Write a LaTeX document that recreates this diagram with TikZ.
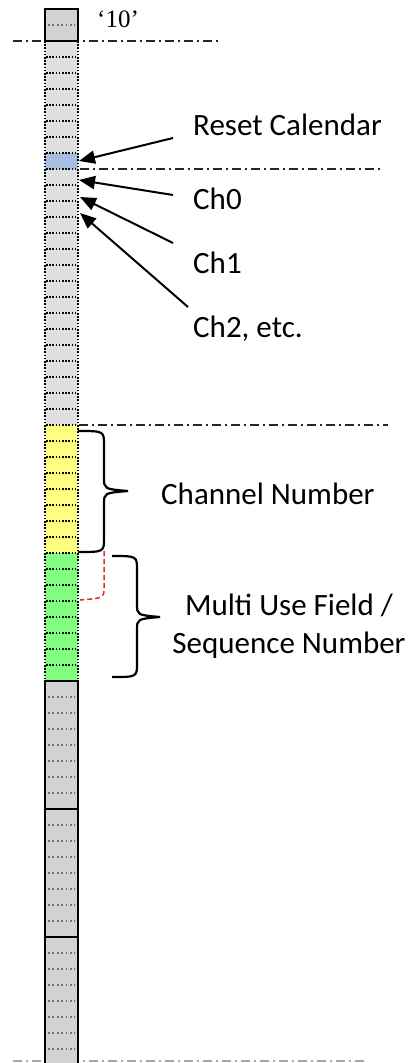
\documentclass[tikz,border=0pt]{standalone}
\usepackage{fontspec}
\setmainfont{Carlito}
\newfontfamily\timesf{Liberation Serif}
\usetikzlibrary{arrows.meta}
\definecolor{lgray}{RGB}{224,224,224}
\definecolor{mgray}{RGB}{210,210,210}
\definecolor{cblue}{RGB}{166,191,224}
\definecolor{cyellow}{RGB}{255,255,128}
\definecolor{cgreen}{RGB}{128,255,128}
\definecolor{cred}{RGB}{224,40,50}
\begin{document}
\begin{tikzpicture}[x=1pt,y=-1pt,
  cellnode/.style={inner sep=0pt, outer sep=0pt, minimum width=33pt, minimum height=16pt, anchor=north west},
  solidbox/.style={cellnode, fill=mgray, draw=black, line width=2pt},
  sep/.style={black, line width=1.8pt, dash pattern=on 1.6pt off 1.6pt},
  gsep/.style={black!55, line width=1.6pt, dash pattern=on 1.8pt off 2.6pt},
  dashdot/.style={line width=2pt, black!85, dash pattern=on 9pt off 4pt on 2pt off 4pt},
  arr/.style={line width=2pt, -{Triangle[length=16pt, width=13pt]}},
  lbl/.style={inner sep=0pt, font=\fontsize{31}{37}\selectfont},
  bracestyle/.style={line width=2.2pt, black}
]
\useasboundingbox (0,0) rectangle (411,1063);

% dash-dot lines
\draw[dashdot] (13,41) -- (220,41);
\draw[dashdot, black!35] (13,1061) -- (365,1061);

% dotted region cells
\foreach \i in {0,...,23} \node[cellnode, fill=lgray] (r\i) at (45,41+16*\i) {};
\node[cellnode, fill=cblue] (r7) at (45,153) {};
\foreach \i in {24,...,31} \node[cellnode, fill=cyellow] (r\i) at (45,41+16*\i) {};
\foreach \i in {32,...,39} \node[cellnode, fill=cgreen] (r\i) at (45,41+16*\i) {};
\foreach \i in {1,...,39} \draw[sep] (46,41+16*\i) -- (77,41+16*\i);
\draw[sep] (45,41) -- (45,681);
\draw[sep] (78,41) -- (78,681);

% top box
\node[solidbox, minimum height=32pt] (top) at (45,9) {};
\draw[gsep] (48,25) -- (75,25);

% lower solid boxes
\foreach \k in {0,1,2} {
  \node[solidbox, minimum height=128pt] (b\k) at (45,681+128*\k) {};
  \foreach \j in {1,...,7} \draw[gsep] (48,681+128*\k+16*\j) -- (75,681+128*\k+16*\j);
}

% other dash-dot lines
\draw[dashdot] (80,169) -- (383,169);
\draw[dashdot] (79,425) -- (388,425);

% labels
\node[anchor=base west, inner sep=0pt, font=\timesf\fontsize{25}{30}\selectfont] (ten) at (97,27) {‘10’};
\node[lbl, anchor=base west] (rc) at (193,135) {Reset Calendar};
\node[lbl, anchor=base west] (ch0) at (193,209) {Ch0};
\node[lbl, anchor=base west] (ch1) at (193,273) {Ch1};
\node[lbl, anchor=base west] (ch2) at (193,337) {Ch2, etc.};
\node[lbl, anchor=base west] (chn) at (161,504) {Channel Number};
\node[lbl, anchor=base] (mu1) at (289,615) {Multi Use Field /};
\node[lbl, anchor=base] (mu2) at (289,653) {Sequence Number};

% arrows
\coordinate (s0) at (173,138);
\coordinate (s1) at (173,195);
\coordinate (s2) at (173,243);
\coordinate (s3) at (188,307);
\draw[arr] (s0) -- ([xshift=1pt]r7.east);
\draw[arr] (s1) -- ([xshift=1pt,yshift=-3pt]r8.east);
\draw[arr] (s2) -- ([xshift=2pt,yshift=-4pt]r9.east);
\draw[arr] (s3) -- ([xshift=2pt,yshift=-4pt]r10.east);

% braces
\draw[bracestyle] (78,431) .. controls (104,431) .. (104,445) -- (104,478)
  .. controls (104,489) .. (128,491) .. controls (104,493) .. (104,504) -- (104,538)
  .. controls (104,552) .. (78,552);
\draw[bracestyle] (112,556) .. controls (137,556) .. (137,570) -- (137,604)
  .. controls (137,615) .. (160,617) .. controls (137,619) .. (137,630) -- (137,663)
  .. controls (137,677) .. (112,677);

% red dashed
\draw[cred, line width=1.5pt, dash pattern=on 5pt off 3pt] (104,551) -- (104,588) .. controls (104,598) .. (80,600);
\end{tikzpicture}
\end{document}
